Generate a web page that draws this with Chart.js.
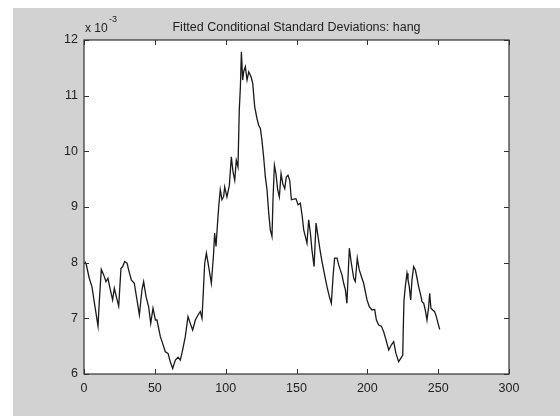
<!DOCTYPE html>
<html>
<head>
<meta charset="utf-8">
<script src="https://cdn.jsdelivr.net/npm/chart.js@4/dist/chart.umd.min.js"></script>
<style>
  html, body { margin: 0; padding: 0; background: #fff; }
  #wrap { position: absolute; left: 0; top: 0; width: 560px; height: 416px; }
</style>
</head>
<body>
<div id="wrap"><canvas id="sdCanvas" width="560" height="416"></canvas></div>
<script>
// values, in units of 1e-3
const obsX = [0.5, 1.5, 3.7, 5.6, 7.5, 9.9, 10.8, 12.2, 13.9, 15.5, 16.9, 18.6, 20.2, 21.4, 22.8, 24.5, 26.1, 27.3, 28.7, 30.4,
  31.5, 33.4, 35.5, 37.4, 39.1, 40.9, 42.1, 43.8, 45.6, 47.1, 48.7, 50.4, 51.5, 53.9, 55.5, 57.4, 59.3, 60.9, 62.6, 64.5,
  66.4, 68.0, 69.6, 71.5, 73.4, 75.0, 76.7, 78.6, 80.5, 82.1, 83.3, 84.0, 85.2, 86.4, 88.0, 89.9, 91.5, 92.2, 93.2, 94.1,
  95.1, 96.2, 97.4, 98.6, 99.3, 100.9, 102.6, 104.0, 105.2, 106.4, 107.5, 108.7, 109.6, 110.4, 111.1, 112.0, 112.7, 113.9, 115.1, 116.3,
  117.9, 119.1, 120.5, 122.1, 123.3, 124.5, 125.6, 126.8, 128.0, 129.2, 130.4, 131.5, 132.7, 133.4, 134.4, 135.5, 136.7, 137.9, 139.1, 140.3,
  141.7, 142.8, 144.0, 145.2, 146.4, 148.0, 149.6, 151.1, 152.7, 153.9, 155.1, 157.4, 158.6, 159.8, 160.9, 162.4, 163.8, 165.2, 166.6, 168.0,
  169.6, 171.5, 173.2, 174.6, 175.8, 176.9, 178.6, 179.8, 180.9, 182.1, 183.3, 184.5, 185.6, 186.4, 187.3, 188.7, 190.4, 191.5, 192.9, 194.3,
  196.2, 197.4, 198.6, 199.8, 201.4, 203.3, 205.2, 206.4, 208.0, 209.9, 211.5, 213.2, 215.1, 216.9, 218.6, 220.2, 222.1, 224.0, 225.0, 225.4,
  225.9, 226.8, 228.0, 228.7, 229.6, 230.6, 231.5, 232.7, 233.9, 235.1, 236.2, 237.4, 238.6, 239.8, 240.9, 242.1, 243.3, 244.0, 244.9, 246.1,
  247.5, 248.7, 249.9, 251.1];
const sdVals = [8.02, 7.98, 7.72, 7.57, 7.25, 6.86, 7.30, 7.88, 7.78, 7.66, 7.72, 7.51, 7.33, 7.54, 7.39, 7.22, 7.90, 7.93, 8.02, 7.99,
  7.87, 7.69, 7.63, 7.33, 7.06, 7.51, 7.66, 7.39, 7.21, 6.91, 7.18, 6.97, 6.97, 6.67, 6.55, 6.40, 6.37, 6.22, 6.10, 6.25,
  6.30, 6.25, 6.43, 6.67, 7.03, 6.91, 6.79, 6.97, 7.06, 7.12, 7.00, 7.36, 7.99, 8.17, 7.93, 7.63, 8.17, 8.53, 8.29, 8.65,
  9.01, 9.31, 9.13, 9.19, 9.36, 9.18, 9.39, 9.90, 9.63, 9.48, 9.84, 9.72, 10.74, 11.16, 11.79, 11.28, 11.43, 11.52, 11.28, 11.43,
  11.34, 11.22, 10.80, 10.59, 10.47, 10.41, 10.20, 9.90, 9.54, 9.31, 8.89, 8.59, 8.47, 9.13, 9.75, 9.60, 9.31, 9.18, 9.60, 9.42,
  9.33, 9.54, 9.57, 9.48, 9.13, 9.14, 9.15, 9.04, 9.07, 8.86, 8.59, 8.35, 8.77, 8.53, 8.23, 7.93, 8.71, 8.47, 8.23, 8.02,
  7.81, 7.57, 7.39, 7.27, 7.75, 8.08, 8.08, 7.96, 7.87, 7.78, 7.63, 7.51, 7.27, 7.75, 8.26, 7.99, 7.72, 7.66, 8.08, 7.87,
  7.72, 7.63, 7.48, 7.33, 7.21, 7.15, 7.16, 6.97, 6.88, 6.86, 6.76, 6.61, 6.43, 6.52, 6.58, 6.37, 6.22, 6.30, 6.34, 6.85,
  7.33, 7.57, 7.81, 7.69, 7.57, 7.33, 7.69, 7.93, 7.87, 7.72, 7.57, 7.45, 7.30, 7.27, 7.15, 6.97, 7.21, 7.45, 7.18, 7.15,
  7.12, 7.03, 6.91, 6.80];
const xTicks = [0, 50, 100, 150, 200, 250, 300];
const yTicks = [6, 7, 8, 9, 10, 11, 12];
const titleText = "Fitted Conditional Standard Deviations: hang";

const FONT = "'Liberation Sans', Arial, sans-serif";

// grey figure backdrop, white strip at top-left like the scan
const figureBg = {
  id: "figureBg",
  beforeDraw(chart) {
    const ctx = chart.ctx;
    ctx.save();
    ctx.fillStyle = "#fff";
    ctx.fillRect(0, 0, chart.width, chart.height);
    ctx.fillStyle = "#d2d2d2";
    ctx.fillRect(13, 8, chart.width - 13, chart.height - 8);
    const a = chart.chartArea;
    ctx.fillStyle = "#fff";
    ctx.fillRect(a.left, a.top, a.right - a.left, a.bottom - a.top);
    ctx.restore();
  },
};

// box, inward ticks, title and exponent label (matlab style)
const matlabBox = {
  id: "matlabBox",
  afterDraw(chart) {
    const ctx = chart.ctx;
    const a = chart.chartArea;
    const xs = chart.scales.x, ys = chart.scales.y;
    ctx.save();
    ctx.strokeStyle = "#333";
    ctx.lineWidth = 1.2;
    ctx.strokeRect(a.left, a.top, a.right - a.left, a.bottom - a.top);
    ctx.lineWidth = 1;
    const tl = 5;
    ctx.beginPath();
    xTicks.forEach((v) => {
      const px = Math.round(xs.getPixelForValue(v)) + 0.5;
      ctx.moveTo(px, a.bottom); ctx.lineTo(px, a.bottom - tl);
      ctx.moveTo(px, a.top); ctx.lineTo(px, a.top + tl);
    });
    yTicks.forEach((v) => {
      const py = Math.round(ys.getPixelForValue(v)) + 0.5;
      ctx.moveTo(a.left, py); ctx.lineTo(a.left + tl, py);
      ctx.moveTo(a.right, py); ctx.lineTo(a.right - tl, py);
    });
    ctx.stroke();

    ctx.fillStyle = "#222";
    ctx.font = "12.5px " + FONT;
    ctx.textAlign = "center";
    ctx.textBaseline = "alphabetic";
    ctx.fillText(titleText, (a.left + a.right) / 2, 31);

    ctx.textAlign = "left";
    ctx.font = "12px " + FONT;
    ctx.fillText("x 10", a.left + 1, 32);
    ctx.font = "9px " + FONT;
    ctx.fillText("-3", a.left + 25, 22);
    ctx.restore();
  },
};

new Chart(document.getElementById("sdCanvas"), {
  type: "line",
  data: {
    datasets: [
      {
        data: obsX.map((x, i) => ({ x, y: sdVals[i] })),
        borderColor: "#1a1a1a",
        borderWidth: 1.3,
        pointRadius: 0,
        tension: 0,
        fill: false,
      },
    ],
  },
  options: {
    responsive: false,
    animation: false,
    layout: { padding: { left: 54, right: 51, top: 40, bottom: 12 } },
    plugins: {
      legend: { display: false },
      tooltip: { enabled: false },
    },
    scales: {
      x: {
        type: "linear",
        min: 0,
        max: 300,
        afterFit: (s) => { s.height = 30; },
        afterBuildTicks: (s) => { s.ticks = xTicks.map((v) => ({ value: v })); },
        grid: { display: false, drawTicks: false },
        border: { display: false },
        ticks: { padding: 7, color: "#222", font: { family: FONT, size: 12.5 }, maxRotation: 0 },
      },
      y: {
        type: "linear",
        min: 6,
        max: 12,
        afterFit: (s) => { s.width = 30; },
        afterBuildTicks: (s) => { s.ticks = yTicks.map((v) => ({ value: v })); },
        grid: { display: false, drawTicks: false },
        border: { display: false },
        ticks: { padding: 6, color: "#222", font: { family: FONT, size: 12.5 } },
      },
    },
  },
  plugins: [figureBg, matlabBox],
});
</script>
</body>
</html>
